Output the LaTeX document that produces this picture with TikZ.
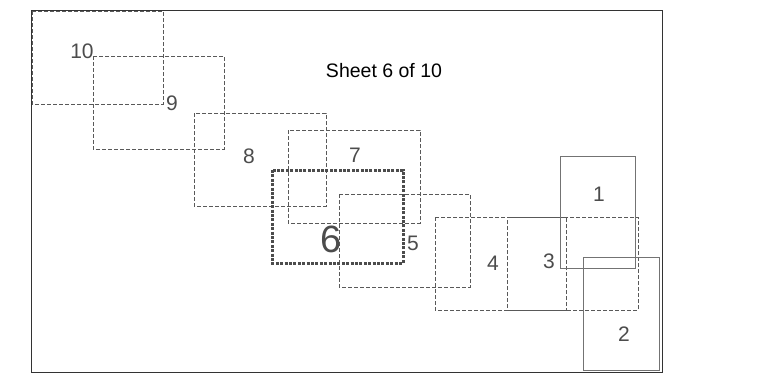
\documentclass[tikz,border=0pt]{standalone}
\usepackage{fontspec}
\setmainfont{Liberation Sans}
\begin{document}
\begin{tikzpicture}[x=1pt,y=-1pt,
  sheetdash/.style={draw=black!65, line width=0.9pt, dash pattern=on 4pt off 2pt},
  sheetsolid/.style={draw=black!55, line width=1pt},
  current/.style={draw=black!70, line width=3pt, dash pattern=on 3pt off 1.4pt},
  frame/.style={draw=black!80, line width=1pt},
  lbl/.style={text=black!70, font=\fontsize{21}{21}\selectfont, inner sep=0pt},
  biglbl/.style={text=black!70, font=\fontsize{38}{38}\selectfont, inner sep=0pt},
  title/.style={text=black, font=\fontsize{19.5}{19.5}\selectfont, inner sep=0pt}]
\useasboundingbox (0,0) rectangle (764,383);
\fill[white] (0,0) rectangle (764,383);
\draw[frame] (31,10) rectangle (662,372);
% sheets
\draw[sheetdash] (32,11) rectangle (163,104);
\draw[sheetdash] (93,56) rectangle (224,149);
\draw[sheetdash] (194,113) rectangle (326,206);
\draw[sheetdash] (288,130) rectangle (420,223);
\draw[sheetdash] (339,194) rectangle (470,287);
\draw[sheetdash] (435,217) rectangle (566,310);
\draw[sheetdash, dash phase=3pt] (507,217) rectangle (638,310);
\draw[sheetsolid] (560,156) rectangle (635,268);
\draw[sheetsolid] (583,257) rectangle (659,370);
\draw[current] (272,170) rectangle (403,263);
% labels
\node[title] (t) at (384,71) {Sheet 6 of 10};
\node[lbl] (l10) at (82,51) {10};
\node[lbl] (l9) at (172,103) {9};
\node[lbl] (l8) at (249,156) {8};
\node[lbl] (l7) at (355,155) {7};
\node[biglbl] (l6) at (331,239) {6};
\node[lbl] (l5) at (413,243) {5};
\node[lbl] (l4) at (493,263) {4};
\node[lbl] (l3) at (549,261) {3};
\node[lbl] (l1) at (599,194) {1};
\node[lbl] (l2) at (624,334) {2};
\end{tikzpicture}
\end{document}
